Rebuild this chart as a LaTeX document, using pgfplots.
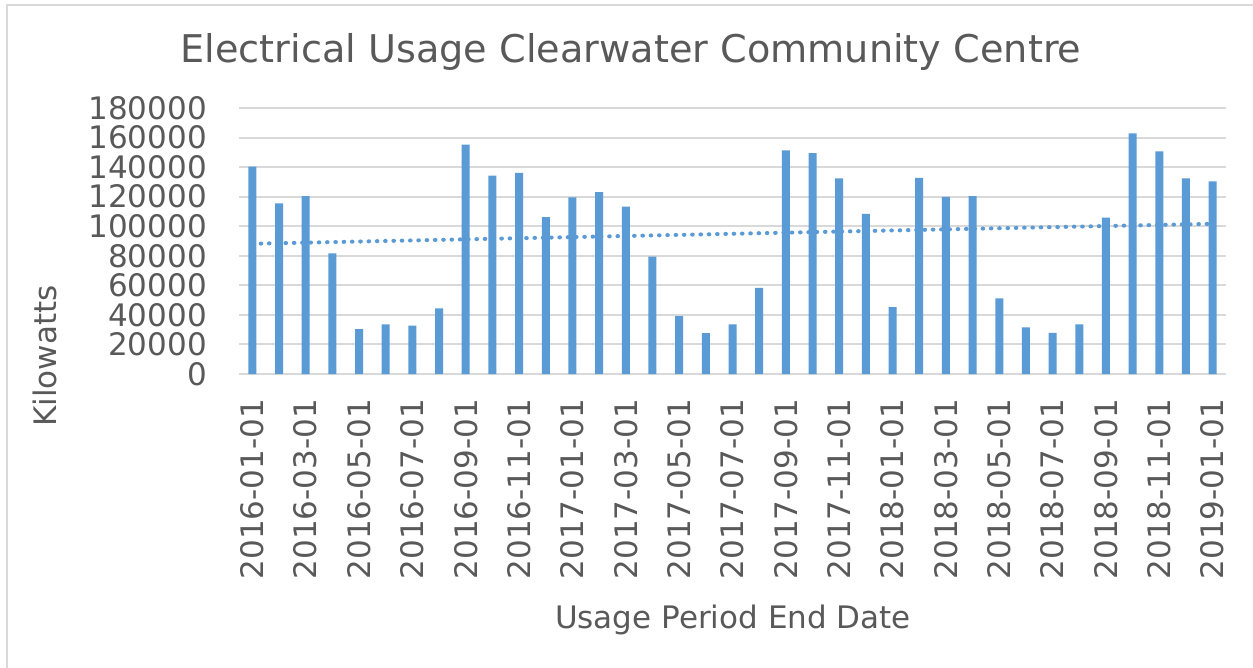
\documentclass[border=0pt]{standalone}
\usepackage{fontspec}
\setmainfont{DejaVu Sans}
\usepackage{pgfplots}
\usepackage{pgfplotstable}
\pgfplotsset{compat=1.18}
\definecolor{barblue}{HTML}{5B9BD5}
\definecolor{txt}{HTML}{595959}
\definecolor{gridc}{HTML}{D9D9D9}
\pgfplotstableread{
x y
0 140400
1 115400
2 120300
3 81600
4 30400
5 33600
6 32700
7 44400
8 155300
9 134300
10 136100
11 106100
12 119600
13 123000
14 113300
15 79500
16 39200
17 27700
18 33600
19 58300
20 151400
21 149400
22 132300
23 108400
24 45300
25 132700
26 119800
27 120300
28 51200
29 31500
30 27900
31 33600
32 105900
33 162900
34 150700
35 132300
36 130400
}\data
\begin{document}
\begin{tikzpicture}[x=1pt,y=1pt]
\useasboundingbox (0,0) rectangle (1253,667);
\fill[white] (0,0) rectangle (1253,667);
\draw[gridc, line width=2pt] (7,-2) -- (7,662) -- (1255,662);
\begin{axis}[
  at={(239pt,293pt)}, anchor=south west, scale only axis,
  width=987pt, height=266pt,
  xmin=-0.5, xmax=36.5, ymin=0, ymax=180000,
  axis line style={draw=none},
  major tick length=0pt,
  ytick={0,20000,40000,60000,80000,100000,120000,140000,160000,180000},
  yticklabels={0,20000,40000,60000,80000,100000,120000,140000,160000,180000},
  scaled y ticks=false,
  ymajorgrids, major grid style={gridc, line width=2pt},
  xtick={0,2,...,36},
  xticklabels={2016-01-01,2016-03-01,2016-05-01,2016-07-01,2016-09-01,2016-11-01,2017-01-01,2017-03-01,2017-05-01,2017-07-01,2017-09-01,2017-11-01,2018-01-01,2018-03-01,2018-05-01,2018-07-01,2018-09-01,2018-11-01,2019-01-01},
  x tick label style={rotate=90, anchor=east, inner sep=0pt, font=\fontsize{31}{31}\selectfont, text=txt},
  y tick label style={anchor=east, inner sep=0pt, font=\fontsize{31}{31}\selectfont, text=txt},
  xticklabel shift=25pt,
  yticklabel shift=32pt,
  clip=false,
]
\addplot[ybar, bar width=0.3, fill=barblue, draw=none] table[x=x, y=y] {\data};
\addplot[barblue, line width=4pt, line cap=round, dash pattern=on 0.6pt off 7.7pt, mark=none]
  table[x=x, y={create col/linear regression={y=y}}] {\data};
\end{axis}
\node[anchor=base, text=txt, font=\fontsize{38.2}{38.2}\selectfont] at (631,604) {Electrical Usage Clearwater Community Centre};
\node[anchor=base, text=txt, font=\fontsize{31}{31}\selectfont] at (733,39) {Usage Period End Date};
\node[rotate=90, text=txt, font=\fontsize{31}{31}\selectfont] at (45,311) {Kilowatts};
\end{tikzpicture}
\end{document}
